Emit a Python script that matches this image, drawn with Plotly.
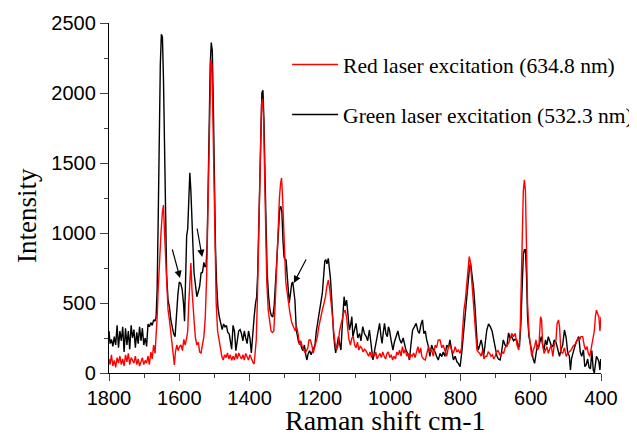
import plotly.graph_objects as go

# ---------------- data ----------------
green_shift = [1800,1797,1793,1789,1785,1781,1777,1773,1769,1765,1761,1757,1753,1749,1745,1741,1737,1733,1729,1725,
               1721,1717,1713,1709,1705,1701,1697,1693,1689,1685,1681,1677,1673,1669,1666,1663,1660,1657,1654,1651,
               1648,1645,1642,1639,1636,1632,1628,1624,1620,1616,1612,1608,1604,1600,1596,1592,1588,1585,1582,1579,
               1576,1573,1570,1567,1564,1561,1558,1554,1550,1546,1542,1538,1534,1530,1527,1524,1521,1518,1515,1512,
               1509,1506,1503,1500,1497,1494,1490,1486,1482,1478,1474,1470,1466,1462,1458,1454,1451,1447,1443,1439,
               1435,1431,1427,1423,1419,1415,1411,1407,1403,1399,1395,1391,1387,1383,1380,1377,1374,1371,1368,1365,
               1362,1359,1356,1353,1350,1346,1342,1338,1334,1330,1326,1322,1318,1314,1311,1308,1305,1302,1299,1296,
               1293,1290,1287,1283,1280,1277,1274,1271,1267,1264,1260,1256,1252,1248,1244,1240,1237,1233,1229,1225,
               1222,1218,1214,1210,1206,1202,1197,1193,1189,1186,1183,1180,1176,1173,1170,1167,1164,1161,1158,1155,
               1151,1147,1143,1140,1136,1133,1131,1128,1124,1120,1116,1112,1109,1106,1102,1097,1092,1087,1083,1078,
               1073,1068,1064,1059,1054,1049,1045,1040,1035,1030,1026,1023,1019,1016,1012,1008,1005,1002,997,992,
               988,983,978,973,968,963,959,955,950,945,941,936,931,926,921,917,912,908,904,900,
               896,891,887,882,877,872,868,863,858,853,849,844,839,834,830,825,820,815,810,806,
               801,796,791,787,782,777,774,771,768,765,762,758,755,752,749,745,741,738,734,730,
               725,720,715,710,705,700,696,692,687,683,678,673,668,663,659,654,649,645,640,636,
               632,628,625,621,618,615,612,609,605,601,597,593,589,585,581,577,573,570,566,562,
               558,554,550,546,542,537,533,528,523,518,514,509,504,499,495,490,487,484,480,475,
               471,467,463,459,455,450,446,442,438,434,430,426,422,419,416,413,409,406,403,401]
green_intensity = [300,210,240,190,260,200,340,180,300,230,330,150,320,200,300,170,340,250,310,180,
                   290,210,330,230,320,200,250,190,350,330,360,340,380,370,400,600,1100,1700,2200,2420,
                   2400,2100,1500,1000,700,520,470,380,330,280,260,420,560,650,640,600,500,370,600,980,
                   1030,1300,1430,1300,1150,900,714,600,545,580,620,714,720,790,760,760,900,1300,1800,2200,
                   2360,2300,1900,1300,900,650,470,400,350,310,350,330,340,290,280,200,170,340,300,160,
                   240,300,310,280,230,300,250,210,300,250,143,300,400,500,540,700,1000,1400,1800,2000,
                   2020,1800,1400,1000,720,550,450,410,400,480,650,850,1000,1180,1190,1150,950,830,810,807,
                   700,560,500,580,640,650,600,520,307,250,214,230,180,160,200,130,93,140,160,130,
                   150,180,200,300,360,420,520,570,700,800,810,780,819,760,680,560,402,280,200,143,
                   200,260,200,164,350,500,545,480,521,420,307,350,402,260,300,355,250,283,230,331,
                   280,260,230,307,200,93,150,212,300,355,260,212,300,355,280,260,330,307,230,164,
                   220,260,300,240,212,250,200,164,140,93,200,307,330,355,300,283,350,379,280,300,
                   236,188,119,200,164,150,120,93,140,117,150,119,200,180,236,150,93,120,80,69,
                   45,150,300,402,560,688,760,783,720,650,593,450,307,200,164,200,236,200,119,200,
                   307,350,331,300,236,180,119,100,93,150,236,200,188,286,250,260,230,240,236,200,
                   188,350,600,850,880,880,700,400,260,200,164,100,69,150,200,188,236,260,200,164,
                   236,200,260,220,200,188,236,220,164,119,164,200,307,250,150,119,21,100,140,190,
                   220,236,260,150,120,164,45,60,100,40,30,160,21,0,60,119,100,80,21,100]

red_shift = [1800,1797,1793,1789,1785,1781,1777,1773,1769,1765,1761,1757,1753,1749,1745,1741,1737,1733,1729,1725,
             1721,1717,1713,1709,1705,1701,1697,1693,1689,1685,1681,1677,1673,1669,1666,1663,1660,1656,1652,1648,
             1645,1642,1639,1636,1632,1628,1625,1621,1617,1614,1611,1607,1603,1599,1595,1591,1587,1583,1579,1576,
             1573,1570,1567,1564,1561,1558,1554,1550,1546,1542,1538,1534,1530,1526,1522,1519,1516,1513,1510,1507,
             1504,1501,1498,1495,1491,1487,1483,1479,1475,1471,1467,1463,1459,1455,1451,1447,1443,1439,1435,1431,
             1427,1423,1419,1415,1411,1407,1403,1399,1395,1391,1387,1384,1381,1378,1375,1372,1369,1366,1363,1360,
             1357,1354,1351,1347,1343,1339,1335,1331,1327,1323,1319,1315,1312,1309,1306,1303,1300,1297,1294,1290,
             1285,1280,1275,1270,1266,1262,1258,1254,1250,1246,1242,1238,1234,1231,1227,1223,1219,1215,1211,1207,
             1203,1198,1193,1188,1184,1180,1176,1172,1168,1164,1160,1156,1152,1148,1144,1140,1136,1132,1128,1124,
             1120,1117,1113,1109,1105,1101,1097,1093,1089,1085,1081,1077,1073,1069,1065,1061,1057,1053,1049,1045,
             1041,1037,1033,1029,1025,1021,1017,1013,1009,1005,1001,997,993,989,985,981,977,973,969,965,
             961,957,953,949,945,941,937,933,929,925,921,917,913,910,905,900,896,891,887,882,
             877,872,868,863,858,853,849,844,839,834,830,825,820,815,810,806,801,797,794,790,
             786,782,778,775,772,769,765,761,757,753,749,745,741,737,733,729,725,721,717,713,
             709,705,701,697,693,689,685,681,677,673,668,663,658,654,649,644,639,634,630,627,
             624,621,618,615,612,609,605,601,597,593,589,585,581,577,574,572,569,566,562,558,
             554,550,546,542,537,533,528,525,521,518,514,509,504,499,495,490,485,480,475,471,
             466,461,457,452,448,444,440,436,432,427,423,419,416,413,409,406,403,400]
red_intensity = [100,60,130,50,90,40,110,70,120,60,100,50,130,80,140,60,110,90,70,120,
                 60,100,50,80,110,60,90,70,120,60,150,100,200,140,250,400,600,850,1000,1150,
                 1200,1000,800,600,450,380,300,200,100,57,150,200,160,190,200,160,240,200,250,300,
                 500,700,785,600,450,378,250,200,220,150,143,200,260,400,700,1100,1600,2000,2240,2200,
                 1800,1200,800,500,300,236,150,120,93,130,110,143,100,130,90,120,93,140,100,143,
                 120,100,130,93,140,110,93,130,100,80,64,150,236,500,900,1300,1700,1920,1960,1800,
                 1400,950,650,450,350,300,290,300,500,800,1050,1250,1350,1393,1250,1000,800,650,593,500,
                 426,360,331,300,331,280,200,230,188,160,143,160,180,236,236,200,143,180,212,260,
                 330,402,450,500,545,620,664,600,520,400,280,200,164,200,300,350,402,430,450,400,
                 300,236,200,250,260,200,180,220,164,190,180,150,170,160,140,120,150,110,140,120,
                 150,100,120,140,110,150,120,100,140,150,110,130,93,120,100,150,130,164,120,188,
                 140,170,120,140,100,130,120,143,110,160,188,140,180,119,100,93,140,188,150,164,
                 120,200,180,236,236,180,200,164,120,188,200,164,140,188,150,164,140,180,300,450,
                 521,650,759,831,800,688,550,402,250,164,150,140,120,164,100,120,119,150,140,120,
                 130,100,119,150,160,140,119,150,140,180,200,212,250,283,260,283,200,164,300,600,
                 1000,1300,1380,1300,900,500,286,200,119,164,188,236,164,180,300,402,379,200,140,164,
                 188,140,164,200,119,200,236,350,379,330,150,140,180,119,140,150,164,190,200,212,
                 250,236,260,260,200,164,190,140,119,200,260,300,400,450,420,400,300,402]

x_ticks = [1800, 1600, 1400, 1200, 1000, 800, 600, 400]
y_ticks = [0, 500, 1000, 1500, 2000, 2500]

legend_red = "Red laser excitation (634.8 nm)"
legend_green = "Green laser excitation (532.3 nm)"
x_title = "Raman shift cm-1"
y_title = "Intensity"

# arrows: tail and head points in data units
arrow_tail_x = [1621, 1550, 1237]
arrow_tail_y = [893, 1043, 821]
arrow_head_x = [1598, 1535, 1274]
arrow_head_y = [679, 829, 643]

# ---------------- figure ----------------
fig = go.Figure()
fig.add_trace(go.Scatter(x=green_shift, y=green_intensity, mode="lines",
                         line=dict(color="#000000", width=1.4),
                         name=legend_green, legendrank=2, legendgroup="g"))
fig.add_trace(go.Scatter(x=red_shift, y=red_intensity, mode="lines",
                         line=dict(color="#ff0000", width=1.4),
                         name=legend_red, legendrank=1, legendgroup="r"))

for tx, ty, hx, hy in zip(arrow_tail_x, arrow_tail_y, arrow_head_x, arrow_head_y):
    fig.add_annotation(x=hx, y=hy, ax=tx, ay=ty, xref="x", yref="y", axref="x", ayref="y",
                       showarrow=True, arrowhead=2, arrowsize=1.2, arrowwidth=1.2,
                       arrowcolor="#000000", text="")

fig.add_annotation(text=x_title, xref="paper", yref="paper", x=0.563, y=-0.137,
                   xanchor="center", yanchor="middle", showarrow=False,
                   font=dict(family="Liberation Serif", size=28, color="#000"))
fig.add_annotation(text=y_title, xref="paper", yref="paper", x=-0.167, y=0.451,
                   xanchor="center", yanchor="middle", showarrow=False, textangle=-90,
                   font=dict(family="Liberation Serif", size=27, color="#000"))

axis_font = dict(family="Liberation Sans", size=20, color="#000")
fig.update_layout(
    width=645, height=443,
    margin=dict(l=101, r=52, t=15, b=78, autoexpand=False),
    plot_bgcolor="white", paper_bgcolor="white",
    showlegend=True,
    legend=dict(x=0.362, y=0.94, xanchor="left", yanchor="top", itemwidth=46,
                bgcolor="rgba(0,0,0,0)", tracegroupgap=19, traceorder="grouped",
                font=dict(family="Liberation Serif", size=21.5, color="#000")),
    xaxis=dict(range=[1800, 400], tickvals=x_ticks, ticks="outside", ticklen=7, tickwidth=1.3,
               showline=True, linecolor="#000", linewidth=1.4, showgrid=False, zeroline=False,
               tickfont=axis_font, automargin=False,
               minor=dict(dtick=100, ticks="outside", ticklen=4, tickwidth=1.2, showgrid=False)),
    yaxis=dict(range=[0, 2500], tickvals=y_ticks, ticks="outside", ticklen=8, tickwidth=1.3,
               showline=True, linecolor="#000", linewidth=1.4, showgrid=False, zeroline=False,
               tickfont=axis_font, automargin=False,
               minor=dict(dtick=250, ticks="outside", ticklen=4, tickwidth=1.2, showgrid=False)),
)

fig.write_html("out.html")
